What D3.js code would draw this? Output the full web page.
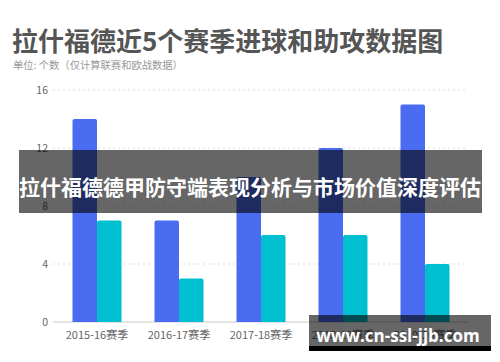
<!DOCTYPE html>
<html>
<head>
<meta charset="utf-8">
<script src="https://cdn.jsdelivr.net/npm/d3@7"></script>
<style>
  body { margin: 0; background: #fff; }
  svg { display: block; font-family: "Noto Sans CJK SC", "Noto Sans", sans-serif; }
</style>
</head>
<body>
<div id="chart-area"></div>
<script>
// seasons and the two series (goals, assists)
var seasons = ["2015-16赛季", "2016-17赛季", "2017-18赛季", "2018-19赛季", "2019-20赛季"];
var goals = [14, 7, 10, 12, 15];
var assists = [7, 3, 6, 6, 4];
var yTicks = [0, 4, 8, 12, 16];

var width = 500, height = 362;

var svg = d3.select("#chart-area")
    .append("svg")
    .attr("width", width)
    .attr("height", height);

// titles
svg.append("text")
    .attr("x", 12)
    .attr("y", 51)
    .attr("font-size", 26)
    .attr("font-weight", "bold")
    .attr("fill", "#555")
    .text("拉什福德近5个赛季进球和助攻数据图");

svg.append("text")
    .attr("x", 13)
    .attr("y", 69)
    .attr("font-size", 10.3)
    .attr("fill", "#999")
    .text("单位: 个数（仅计算联赛和欧战数据）");

var x = d3.scaleBand()
    .domain(seasons)
    .range([56, 466]);

var sub = d3.scaleBand()
    .domain(["goals", "assists"])
    .range([x.bandwidth() / 2 - 24.5, x.bandwidth() / 2 + 24.5]);

var y = d3.scaleLinear()
    .domain([0, 16])
    .range([322, 90]);

// grid lines
svg.selectAll(".grid")
    .data(yTicks.filter(d => d > 0))
    .enter()
    .append("line")
    .attr("x1", 53)
    .attr("x2", 468)
    .attr("y1", d => y(d))
    .attr("y2", d => y(d))
    .attr("stroke", "#ddd")
    .attr("stroke-dasharray", "2,3");

svg.append("line")
    .attr("x1", 53)
    .attr("x2", 468)
    .attr("y1", y(0))
    .attr("y2", y(0))
    .attr("stroke", "#ccc");

svg.selectAll(".ylab")
    .data(yTicks)
    .enter()
    .append("text")
    .attr("x", 48)
    .attr("y", d => y(d))
    .attr("dy", "0.35em")
    .attr("text-anchor", "end")
    .attr("font-size", 10.5)
    .attr("fill", "#666")
    .text(d => d);

// bars
var groups = svg.selectAll(".season")
    .data(seasons)
    .enter()
    .append("g")
    .attr("transform", d => "translate(" + x(d) + ",0)");

function bar(sel, key, vals, color) {
    sel.append("path")
        .attr("fill", color)
        .attr("d", function(d, i) {
            var x0 = sub(key), w = sub.bandwidth(), top = y(vals[i]), bot = y(0), r = 2;
            return "M" + x0 + "," + bot + "V" + (top + r) +
                "Q" + x0 + "," + top + " " + (x0 + r) + "," + top +
                "H" + (x0 + w - r) +
                "Q" + (x0 + w) + "," + top + " " + (x0 + w) + "," + (top + r) +
                "V" + bot + "Z";
        });
}
bar(groups, "goals", goals, "#4a6cf0");
bar(groups, "assists", assists, "#00bfd0");

groups.append("text")
    .attr("x", x.bandwidth() / 2)
    .attr("y", 339)
    .attr("text-anchor", "middle")
    .attr("font-size", 11)
    .attr("fill", "#666")
    .text(d => d);

// overlay banner
svg.append("rect")
    .attr("x", 19)
    .attr("y", 150)
    .attr("width", 463)
    .attr("height", 63)
    .attr("fill", "rgba(0,0,0,0.6)");

svg.append("text")
    .attr("x", 250)
    .attr("y", 195)
    .attr("text-anchor", "middle")
    .attr("font-size", 21)
    .attr("font-weight", "bold")
    .attr("fill", "#fff")
    .text("拉什福德德甲防守端表现分析与市场价值深度评估");

// site watermark
svg.append("rect")
    .attr("x", 309)
    .attr("y", 315)
    .attr("width", 182)
    .attr("height", 31)
    .attr("fill", "rgba(0,0,0,0.6)");
svg.append("rect")
    .attr("x", 309)
    .attr("y", 346)
    .attr("width", 182)
    .attr("height", 5)
    .attr("fill", "#000");

svg.append("text")
    .attr("x", 398)
    .attr("y", 342)
    .attr("text-anchor", "middle")
    .attr("font-size", 17)
    .attr("font-weight", "bold")
    .attr("font-family", "Open Sans, sans-serif")
    .attr("fill", "#fff")
    .text("www.cn-ssl-jjb.com");
</script>
</body>
</html>
